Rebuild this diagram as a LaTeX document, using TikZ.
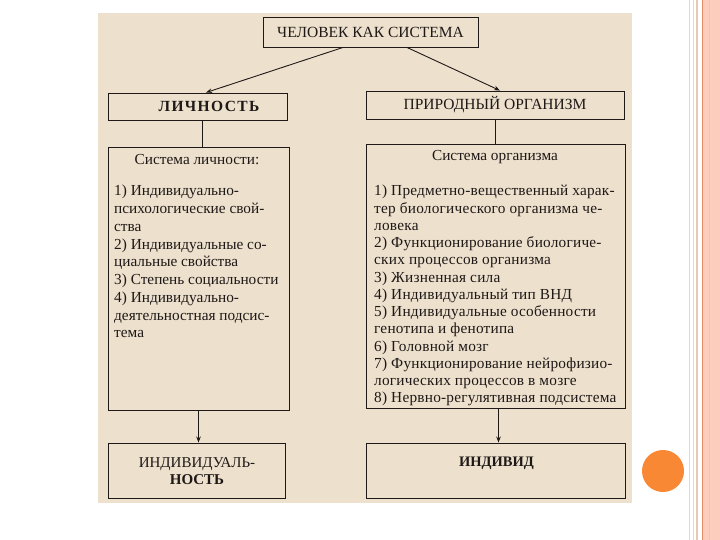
\documentclass[tikz,border=0pt]{standalone}
\usepackage{fontspec}
\setmainfont{Liberation Serif}
\usetikzlibrary{arrows.meta}
\definecolor{beige}{RGB}{237,225,206}
\definecolor{ink}{RGB}{30,24,22}
\definecolor{dotc}{RGB}{248,136,52}
\definecolor{stripe}{RGB}{252,204,188}
\definecolor{stripeline}{RGB}{230,140,105}
\definecolor{paleline}{RGB}{238,212,198}
\newcommand{\hdfont}{\fontsize{15.5}{18}\selectfont}
\newcommand{\bdfont}{\fontsize{15.3}{17.25}\selectfont}
\newcommand{\bdfontl}{\fontsize{15.3}{17.75}\selectfont}
\begin{document}
\begin{tikzpicture}[x=1pt,y=-1pt,
  box/.style={draw=ink, line width=0.9pt, inner sep=0pt, font=\hdfont, text=ink},
  txt/.style={inner sep=0pt, text=ink},
  ln/.style={draw=ink, line width=0.9pt},
  arr/.style={draw=ink, line width=0.9pt, -{Stealth[length=6pt,width=4.5pt]}}]
\useasboundingbox (0,0) rectangle (720,540);
\fill[white] (0,0) rectangle (720,540);
% background panel
\fill[beige] (98,13) rectangle (632,503);
% right decoration
\fill[stripe] (703,0) rectangle (720,540);
\draw[paleline, line width=1pt] (689.5,0) -- (689.5,540);
\draw[paleline, line width=1pt] (693,0) -- (693,540);
\draw[paleline!80!stripeline, line width=1.2pt] (697,0) -- (697,540);
\draw[stripeline, line width=1.3pt] (702.5,0) -- (702.5,540);
\draw[stripe!85!stripeline, line width=0.8pt] (709,0) -- (709,540);
\fill[dotc] (663,471) circle (21);
% boxes
\node[box, minimum width=215, minimum height=30] (top) at (370.5,32) {ЧЕЛОВЕК КАК СИСТЕМА};
\node[box, minimum width=179, minimum height=27] (lich) at (197.5,106.5) {};
\node[box, minimum width=258, minimum height=28] (org) at (495,105) {ПРИРОДНЫЙ ОРГАНИЗМ};
\node[box, minimum width=181, minimum height=263] (lbox) at (198.5,278.5) {};
\node[box, minimum width=259, minimum height=264] (rbox) at (495.5,276) {};
\node[box, minimum width=177, minimum height=55] (ind) at (196.5,470.5) {};
\node[box, minimum width=259, minimum height=55] (indiv) at (495.5,470.5) {};
% texts
\node[txt, font={\fontsize{15.5}{18}\selectfont\bfseries\addfontfeature{LetterSpace=9}}] (licht) at (209,106) {ЛИЧНОСТЬ};
\node[txt, font=\bdfont] (lhead) at (197,160) {Система личности:};
\node[txt, font=\bdfontl, anchor=north west, align=left] (llist) at (114,185) {1) Индивидуально-\\психологические свой-\\ства\\2) Индивидуальные со-\\циальные свойства\\3) Степень социальности\\4) Индивидуально-\\деятельностная подсис-\\тема};
\node[txt, font=\bdfont] (rhead) at (495,157) {Система организма};
\node[txt, font={\bdfont\addfontfeature{LetterSpace=1.5}}, anchor=north west, align=left] (rlist) at (374,185) {1) Предметно-вещественный харак-\\тер биологического организма че-\\ловека\\2) Функционирование биологиче-\\ских процессов организма\\3) Жизненная сила\\4) Индивидуальный тип ВНД\\5) Индивидуальные особенности\\генотипа и фенотипа\\6) Головной мозг\\7) Функционирование нейрофизио-\\логических процессов в мозге\\8) Нервно-регулятивная подсистема};
\node[txt, font={\fontsize{15}{17}\selectfont}, align=center] (indt) at (197,471.5) {ИНДИВИДУАЛЬ-\\\textbf{НОСТЬ}};
\node[txt, font={\fontsize{14.5}{17}\selectfont\bfseries}] (indivt) at (496.5,463) {ИНДИВИД};
% connectors
\draw[arr] ([xshift=-27.5]top.south) -- ([xshift=8.5]lich.north);
\draw[arr] ([xshift=36.5]top.south) -- ([xshift=5]org.north);
\draw[ln] ([xshift=5]lich.south) -- ([xshift=5]lich.south |- lbox.north);
\draw[ln] (org.south) -- (org.south |- rbox.north);
\draw[arr] (lbox.south) -- (lbox.south |- ind.north);
\draw[arr] ([xshift=3]rbox.south) -- ([xshift=3]rbox.south |- indiv.north);
\end{tikzpicture}
\end{document}
